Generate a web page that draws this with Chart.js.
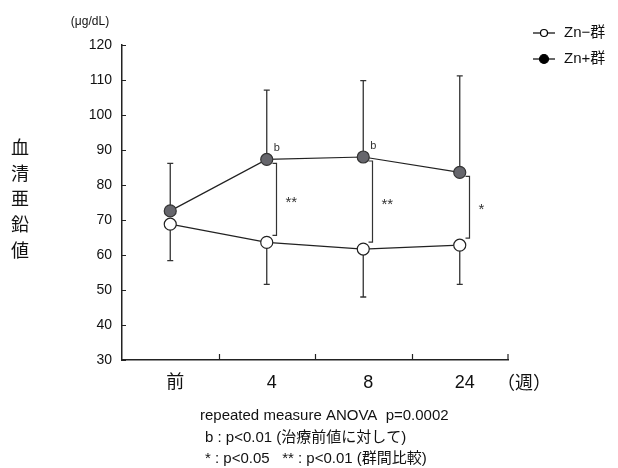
<!DOCTYPE html>
<html lang="ja">
<head>
<meta charset="utf-8">
<script src="https://cdn.jsdelivr.net/npm/chart.js@4/dist/chart.umd.min.js"></script>
<style>
  html, body { margin: 0; padding: 0; background: #fff; }
  #wrap { width: 618px; height: 468px; }
</style>
</head>
<body>
<div id="wrap"><canvas id="znChart" width="618" height="468"></canvas></div>

<script>
// data
const categories = ['前', '4', '8', '24'];
const znMinus = [68.8, 63.6, 61.7, 62.8];     // Zn-群 mean
const znMinusSd = [10.4, 12.0, 13.7, 11.2];   // drawn downward
const znPlus = [72.6, 87.3, 88.0, 83.6];      // Zn+群 mean
const znPlusSd = [13.6, 19.8, 21.8, 27.6];    // drawn upward
const bMarks = ['', 'b', 'b', ''];            // vs pre-treatment
const groupMarks = ['', '**', '**', '*'];     // between groups
const yMin = 30, yMax = 120, yStep = 10;

const jpFont = "'Liberation Sans', 'Noto Sans CJK JP', sans-serif";
const ink = '#222';

// error bars, brackets, tick marks and the loose texts
const extras = {
  id: 'extras',
  beforeDatasetsDraw(chart) {
    const ctx = chart.ctx;
    const xs = chart.scales.x, ys = chart.scales.y;
    ctx.save();
    ctx.strokeStyle = '#333';
    ctx.lineWidth = 1.3;
    for (let i = 0; i < categories.length; i++) {
      const x = xs.getPixelForValue(i);
      // Zn+ upward
      let y0 = ys.getPixelForValue(znPlus[i]);
      let y1 = ys.getPixelForValue(znPlus[i] + znPlusSd[i]);
      ctx.beginPath();
      ctx.moveTo(x, y0); ctx.lineTo(x, y1);
      ctx.moveTo(x - 3, y1); ctx.lineTo(x + 3, y1);
      ctx.stroke();
      // Zn- downward
      y0 = ys.getPixelForValue(znMinus[i]);
      y1 = ys.getPixelForValue(znMinus[i] - znMinusSd[i]);
      ctx.beginPath();
      ctx.moveTo(x, y0); ctx.lineTo(x, y1);
      ctx.moveTo(x - 3, y1); ctx.lineTo(x + 3, y1);
      ctx.stroke();
    }
    ctx.restore();
  },
  afterDraw(chart) {
    const ctx = chart.ctx;
    const xs = chart.scales.x, ys = chart.scales.y;
    const area = chart.chartArea;
    ctx.save();

    // axis tick marks (pointing inward)
    ctx.strokeStyle = ink;
    ctx.lineWidth = 1.2;
    ctx.beginPath();
    for (let v = yMin; v <= yMax; v += yStep) {
      const y = Math.round(ys.getPixelForValue(v)) + 0.5;
      ctx.moveTo(area.left, y); ctx.lineTo(area.left + 4, y);
    }
    for (let i = 0; i < categories.length - 1; i++) {
      const x = Math.round((xs.getPixelForValue(i) + xs.getPixelForValue(i + 1)) / 2) + 0.5;
      ctx.moveTo(x, area.bottom); ctx.lineTo(x, area.bottom - 6);
    }
    ctx.moveTo(area.right, area.bottom); ctx.lineTo(area.right, area.bottom - 6);
    ctx.stroke();

    // significance brackets
    ctx.strokeStyle = '#333';
    ctx.lineWidth = 1.2;
    ctx.fillStyle = '#333';
    ctx.textBaseline = 'middle';
    ctx.textAlign = 'left';
    for (let i = 0; i < categories.length; i++) {
      const x = xs.getPixelForValue(i);
      const yp = ys.getPixelForValue(znPlus[i]);
      const ym = ys.getPixelForValue(znMinus[i]);
      if (groupMarks[i]) {
        const bx = Math.round(x + 9) + 0.5;
        const top = yp + 4, bot = ym - 7;
        ctx.beginPath();
        ctx.moveTo(bx - 4, top); ctx.lineTo(bx, top);
        ctx.lineTo(bx, bot); ctx.lineTo(bx - 4, bot);
        ctx.stroke();
        ctx.font = '15px ' + jpFont;
        ctx.fillText(groupMarks[i], bx + 9, (top + bot) / 2 + 3);
      }
      if (bMarks[i]) {
        ctx.font = '11px ' + jpFont;
        ctx.fillText(bMarks[i], x + 7, yp - 11);
      }
    }

    // legend
    const legend = [
      { label: 'Zn−群', fill: '#fff', r: 3.5, y: 33 },
      { label: 'Zn+群', fill: '#000', r: 4.5, y: 59 }
    ];
    legend.forEach(item => {
      ctx.strokeStyle = '#000';
      ctx.lineWidth = 1.2;
      ctx.beginPath();
      ctx.moveTo(533, item.y); ctx.lineTo(555, item.y);
      ctx.stroke();
      ctx.beginPath();
      ctx.arc(544, item.y, item.r, 0, Math.PI * 2);
      ctx.fillStyle = item.fill;
      ctx.fill();
      ctx.stroke();
      ctx.fillStyle = '#111';
      ctx.font = '15px ' + jpFont;
      ctx.textAlign = 'left';
      ctx.fillText(item.label, 564, item.y);
    });

    // y title, written top to bottom
    ctx.fillStyle = '#111';
    ctx.font = "18px 'Noto Sans CJK JP', sans-serif";
    ctx.textAlign = 'center';
    ['血', '清', '亜', '鉛', '値'].forEach((ch, k) => {
      ctx.fillText(ch, 20, 147 + k * 25.8);
    });

    // unit and week label
    ctx.font = '12px ' + jpFont;
    ctx.fillText('(μg/dL)', 90, 22);
    ctx.font = "18px 'Noto Sans CJK JP', sans-serif";
    ctx.fillText('（週）', 524, 382);

    // notes
    ctx.textAlign = 'left';
    ctx.font = '15px ' + jpFont;
    ctx.fillText('repeated measure ANOVA  p=0.0002', 200, 416);
    ctx.fillText('b : p<0.01 (治療前値に対して)', 205, 438);
    ctx.fillText('* : p<0.05   ** : p<0.01 (群間比較)', 205, 459);

    ctx.restore();
  }
};

var ctx = document.getElementById('znChart').getContext('2d');
var znChart = new Chart(ctx, {
  type: 'line',
  data: {
    labels: categories,
    datasets: [
      {
        label: 'Zn−群',
        data: znMinus,
        borderColor: ink,
        borderWidth: 1.2,
        pointRadius: 6,
        pointBackgroundColor: '#fff',
        pointBorderColor: ink,
        pointBorderWidth: 1.2,
        tension: 0
      },
      {
        label: 'Zn+群',
        data: znPlus,
        borderColor: ink,
        borderWidth: 1.2,
        pointRadius: 6,
        pointBackgroundColor: '#66666c',
        pointBorderColor: '#333',
        pointBorderWidth: 1.2,
        tension: 0
      }
    ]
  },
  options: {
    responsive: false,
    animation: false,
    layout: { padding: { left: 82, right: 110, top: 45, bottom: 0 } },
    plugins: {
      legend: { display: false },
      tooltip: { enabled: false }
    },
    scales: {
      x: {
        type: 'category',
        offset: true,
        grid: { display: false, drawTicks: false },
        border: { display: true, color: ink, width: 1.5 },
        ticks: {
          color: '#111',
          font: { family: jpFont, size: 18 },
          padding: 12,
          labelOffset: 5
        },
        afterFit: (scale) => { scale.height = 108; }
      },
      y: {
        min: yMin,
        max: yMax,
        grid: { display: false, drawTicks: false },
        border: { display: true, color: ink, width: 1.5 },
        ticks: {
          stepSize: yStep,
          color: '#111',
          font: { family: jpFont, size: 14 },
          padding: 10
        },
        afterFit: (scale) => { scale.width = 40; }
      }
    }
  },
  plugins: [extras]
});
</script>
</body>
</html>
